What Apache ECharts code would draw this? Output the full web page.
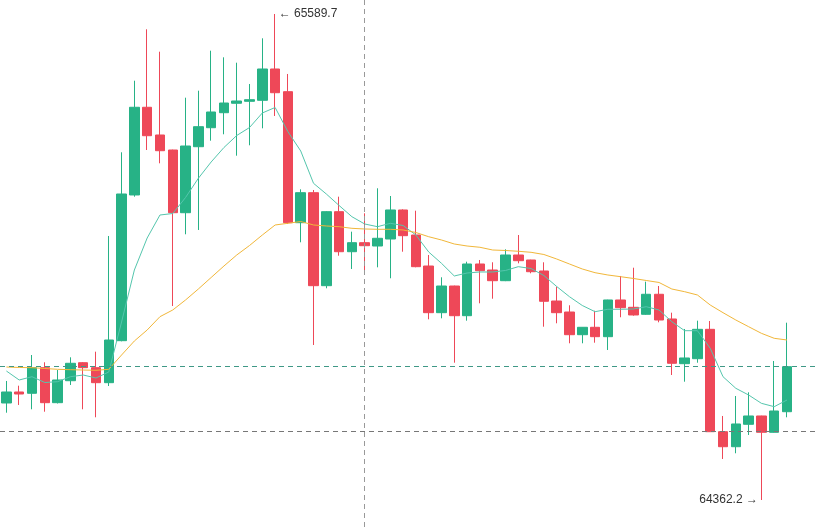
<!DOCTYPE html>
<html>
<head>
<meta charset="utf-8">
<script src="https://cdn.jsdelivr.net/npm/echarts@6/dist/echarts.min.js"></script>
<style>
  html, body { margin: 0; padding: 0; background: #fff; }
  #kline { width: 823px; height: 527px; }
</style>
</head>
<body>
<div id="kline"></div>
<script>
// [open, close, low, high] per candle
var ohlc = [
    [64607.2, 64635.0, 64582.7, 64662.8],
    [64635.0, 64629.9, 64602.2, 64650.9],
    [64631.7, 64696.4, 64591.3, 64728.4],
    [64696.4, 64608.0, 64585.2, 64710.0],
    [64608.0, 64665.3, 64606.0, 64690.5],
    [64663.5, 64707.5, 64652.7, 64722.6],
    [64709.0, 64696.4, 64591.3, 64710.5],
    [64696.4, 64658.5, 64571.1, 64736.8],
    [64658.5, 64766.3, 64650.1, 65029.0],
    [64764.6, 65135.1, 64763.0, 65240.4],
    [65132.6, 65354.1, 65128.3, 65421.2],
    [65354.1, 65282.3, 65246.2, 65551.1],
    [65284.1, 65244.4, 65212.6, 65494.5],
    [65246.2, 65087.8, 64852.2, 65247.0],
    [65087.8, 65256.3, 65033.3, 65378.3],
    [65254.5, 65305.1, 65044.2, 65396.0],
    [65302.5, 65342.2, 65269.7, 65497.0],
    [65340.4, 65364.9, 65285.9, 65480.3],
    [65364.2, 65370.0, 65231.8, 65466.7],
    [65369.2, 65373.3, 65258.1, 65412.9],
    [65371.7, 65450.8, 65301.0, 65528.3],
    [65450.8, 65390.9, 65332.1, 65589.7],
    [65393.5, 65062.6, 65059.3, 65438.2],
    [65062.6, 65138.4, 65013.1, 65146.9],
    [65138.4, 64903.5, 64753.7, 65145.2],
    [64903.5, 65090.4, 64896.9, 65091.5],
    [65090.4, 64989.3, 64979.2, 65128.3],
    [64989.3, 65012.1, 64945.7, 65039.9],
    [65012.1, 65004.5, 64940.6, 65086.3],
    [65003.7, 65023.2, 64949.9, 65149.5],
    [65021.4, 65094.7, 64922.2, 65130.0],
    [65094.7, 65029.8, 64989.3, 65096.4],
    [65031.5, 64951.5, 64950.0, 65092.9],
    [64953.2, 64835.3, 64818.6, 64981.0],
    [64835.3, 64902.7, 64821.1, 64924.7],
    [64902.7, 64827.7, 64709.0, 64903.5],
    [64827.7, 64958.3, 64815.1, 64964.1],
    [64958.3, 64941.4, 64859.0, 64968.4],
    [64943.1, 64916.1, 64870.6, 64962.6],
    [64916.1, 64981.0, 64915.0, 64995.4],
    [64981.0, 64966.6, 64960.0, 65031.5],
    [64968.4, 64938.8, 64934.8, 64969.0],
    [64940.6, 64864.1, 64799.9, 64962.6],
    [64864.8, 64835.3, 64808.5, 64900.9],
    [64837.0, 64779.7, 64758.0, 64854.0],
    [64779.7, 64798.4, 64758.0, 64799.0],
    [64798.4, 64774.7, 64759.5, 64840.3],
    [64774.7, 64867.4, 64741.1, 64868.0],
    [64867.4, 64847.9, 64823.7, 64928.0],
    [64848.9, 64829.5, 64827.7, 64948.9],
    [64831.2, 64881.8, 64830.0, 64913.6],
    [64881.8, 64816.8, 64811.0, 64902.7],
    [64819.4, 64707.5, 64677.9, 64835.3],
    [64706.5, 64720.9, 64661.0, 64794.1],
    [64719.1, 64793.3, 64709.0, 64815.1],
    [64793.3, 64534.7, 64534.0, 64814.3],
    [64534.7, 64496.8, 64465.8, 64574.4],
    [64496.8, 64554.2, 64480.2, 64624.9],
    [64553.4, 64574.4, 64526.4, 64634.2],
    [64574.4, 64533.2, 64362.2, 64575.0],
    [64533.2, 64587.0, 64532.5, 64713.3],
    [64585.2, 64698.9, 64571.1, 64810.0]
];

// short moving average (teal)
var maShort = [
    64688.0, 64665.3, 64673.6, 64659.0, 64661.0, 64673.6, 64677.9, 64670.3, 64685.5, 64811.8,
    64943.1, 65023.9, 65082.0, 65085.8, 65126.2, 65174.7, 65215.9, 65252.5, 65282.8, 65303.0,
    65339.7, 65353.6, 65292.4, 65243.7, 65162.1, 65135.1, 65106.0, 65077.7, 65059.3, 65052.5,
    65061.1, 65055.5, 65031.5, 64988.6, 64960.0, 64928.0, 64935.5, 64938.1, 64938.1, 64941.9,
    64951.5, 64946.9, 64929.2, 64901.5, 64875.7, 64853.5, 64837.8, 64843.9, 64843.9, 64844.6,
    64850.4, 64842.1, 64812.5, 64789.8, 64789.8, 64745.4, 64673.6, 64644.3, 64627.4, 64606.4,
    64597.9, 64614.8
];

// long moving average (orange)
var maLong = [
    64698.1, 64696.9, 64696.4, 64694.3, 64692.3, 64691.3, 64690.5, 64689.8, 64692.3, 64728.4,
    64763.8, 64791.6, 64825.2, 64842.1, 64867.4, 64895.1, 64924.2, 64953.2, 64981.0, 65005.0,
    65031.5, 65056.8, 65061.1, 65065.6, 65056.8, 65054.3, 65052.5, 65048.4, 65046.7, 65045.9,
    65045.9, 65044.2, 65037.8, 65027.2, 65018.9, 65008.8, 65003.7, 65000.5, 64993.6, 64992.4,
    64990.4, 64987.8, 64982.3, 64970.9, 64958.3, 64945.7, 64936.3, 64930.5, 64926.2, 64921.7,
    64916.6, 64911.6, 64895.1, 64888.3, 64880.0, 64854.7, 64835.3, 64816.8, 64799.9, 64783.2,
    64770.6, 64766.3
];

var lastPrice = 64698.9;
var refPrice = 64535.7;
var crossIndex = 28;

// two empty slots on the right, like the chart's right padding
var categories = [];
for (var i = 0; i < ohlc.length + 2; i++) {
    categories.push(String(i));
}

var upColor = '#27b286';
var downColor = '#ee4858';

var chart = echarts.init(document.getElementById('kline'));
var option = {
    backgroundColor: '#fff',
    animation: false,
    grid: { left: 0, right: 4, top: 0, bottom: 0 },
    xAxis: {
        type: 'category',
        data: categories,
        boundaryGap: true,
        show: false
    },
    yAxis: {
        type: 'value',
        min: 64294.0,
        max: 65625.06,
        show: false
    },
    series: [{
        type: 'candlestick',
        data: ohlc,
        barWidth: 10,
        itemStyle: {
            color: upColor,
            color0: downColor,
            borderColor: upColor,
            borderColor0: downColor,
            borderWidth: 1
        },
        markPoint: {
            symbol: 'circle',
            symbolSize: 1,
            itemStyle: { color: 'rgba(0,0,0,0)' },
            label: {
                show: true,
                color: '#333',
                fontSize: 12,
                fontFamily: 'Arial, "Liberation Sans", sans-serif'
            },
            data: [{
                type: 'max',
                valueDim: 'highest',
                label: {
                    position: 'right',
                    distance: 3,
                    formatter: function (p) { return '\u2190 ' + p.value; }
                }
            }, {
                type: 'min',
                valueDim: 'lowest',
                label: {
                    position: 'left',
                    distance: 3,
                    formatter: function (p) { return p.value + ' \u2192'; }
                }
            }]
        },
        markLine: {
            symbol: 'none',
            silent: true,
            label: { show: false },
            data: [{
                yAxis: lastPrice,
                lineStyle: { color: '#3f9886', type: [5, 4], width: 1 }
            }, {
                yAxis: refPrice,
                lineStyle: { color: '#777', type: [5, 4], width: 1 }
            }, {
                xAxis: crossIndex,
                lineStyle: { color: '#999', type: [5, 4], width: 1 }
            }]
        }
    }, {
        type: 'line',
        data: maShort,
        symbol: 'none',
        lineStyle: { color: '#55c6ad', width: 1 }
    }, {
        type: 'line',
        data: maLong,
        symbol: 'none',
        lineStyle: { color: '#f1b73a', width: 1 }
    }]
};
chart.setOption(option);
</script>
</body>
</html>
